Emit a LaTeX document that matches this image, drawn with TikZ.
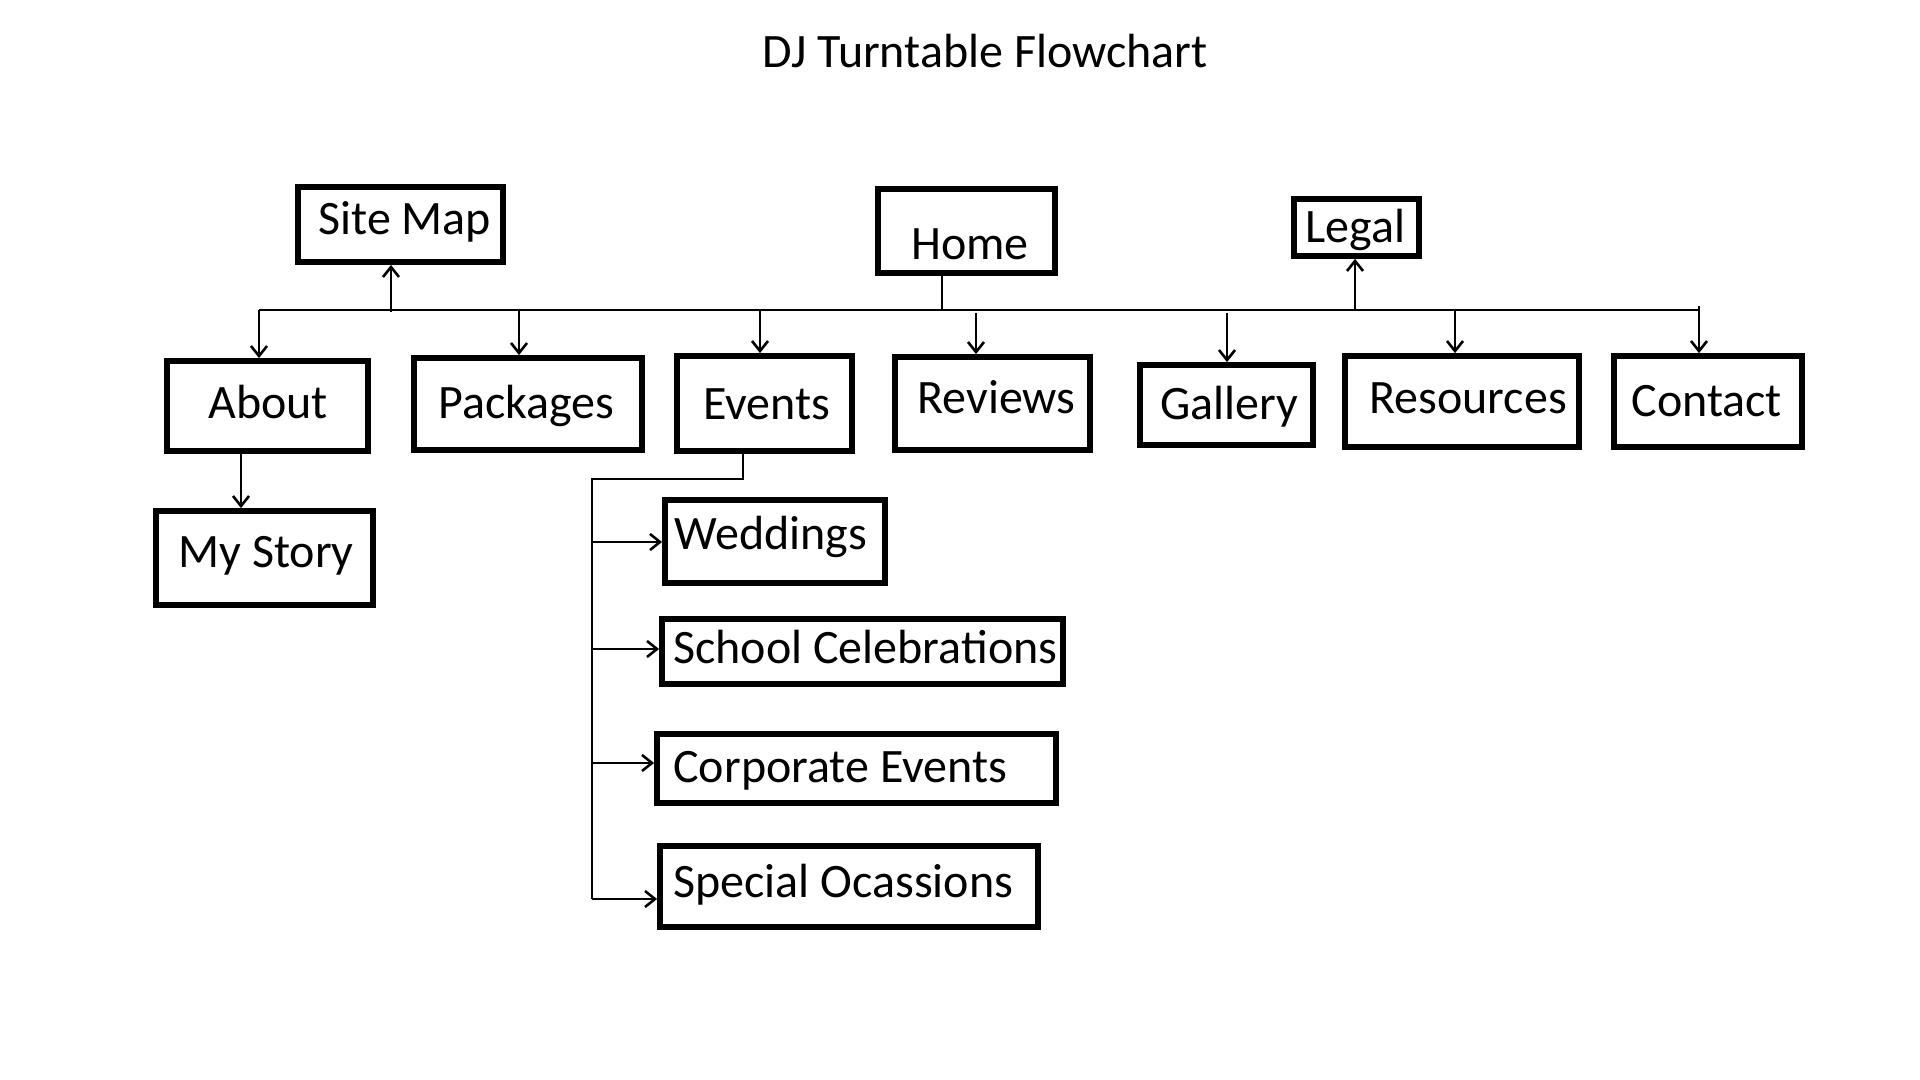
\documentclass[tikz,border=0pt]{standalone}
\usepackage{fontspec}
\setmainfont{Carlito}
\usetikzlibrary{arrows.meta}
\tikzset{
  box/.style={draw=black, line width=2.9pt, rectangle, inner sep=0pt, fill=white},
  txt/.style={anchor=base west, inner sep=0pt, font=\fontsize{24}{29}\selectfont},
  conn/.style={draw=black, line width=1.4pt},
  arr/.style={conn, -{Straight Barb[length=5pt,width=8pt,line width=1.3pt]}}
}
\newcommand{\mybox}[5]{%
  \node[box, minimum width={(#4-#2-6)*0.5pt}, minimum height={(#5-#3-6)*0.5pt}]
    (#1) at ({(#2+#4)/2},{(#3+#5)/2}) {};}
\begin{document}
\begin{tikzpicture}[x=0.5pt,y=-0.5pt]
\useasboundingbox[fill=white] (0,0) rectangle (1920,1080);

% title
\node[txt] (title) at (762,68) {DJ Turntable Flowchart};

% top row
\mybox{home}{875}{186}{1058}{276}
\node[txt] (homet) at (911,260) {Home};
\mybox{sitemap}{295}{184}{506}{265}
\node[txt] (sitemapt) at (318,235) {Site Map};
\mybox{legal}{1291}{196}{1422}{259}
\node[txt] (legalt) at (1305,243) {Legal};

% second row
\mybox{about}{164}{358}{371}{454}
\node[txt] (aboutt) at (208,418) {About};
\mybox{packages}{411}{355}{645}{453}
\node[txt] (packagest) at (438,418) {Packages};
\mybox{events}{674}{353}{855}{454}
\node[txt] (eventst) at (703,419) {Events};
\mybox{reviews}{892}{354}{1093}{453}
\node[txt] (reviewst) at (917,413) {Reviews};
\mybox{gallery}{1137}{362}{1316}{448}
\node[txt] (galleryt) at (1160,419) {Gallery};
\mybox{resources}{1342}{353}{1582}{450}
\node[txt] (resourcest) at (1369,413) {Resources};
\mybox{contact}{1611}{353}{1805}{450}
\node[txt] (contactt) at (1631,416) {Contact};

% my story
\mybox{mystory}{153}{508}{376}{608}
\node[txt] (mystoryt) at (178,567) {My Story};

% events children
\mybox{weddings}{662}{497}{888}{586}
\node[txt] (weddingst) at (674,549) {Weddings};
\mybox{school}{659}{616}{1066}{687}
\node[txt] (schoolt) at (673,663) {School Celebrations};
\mybox{corporate}{654}{731}{1059}{806}
\node[txt] (corporatet) at (673,782) {Corporate Events};
\mybox{special}{657}{843}{1041}{930}
\node[txt] (specialt) at (673,897) {Special Ocassions};

% bus coordinates
\coordinate (busL) at (259,310);
\coordinate (busR) at (1699,310);
\coordinate (bHome) at (942,310);
\coordinate (bSite) at (391,312);
\coordinate (bLegal) at (1355,310);
\coordinate (bAbout) at (259,310);
\coordinate (bPack) at (519,310);
\coordinate (bEvents) at (760,310);
\coordinate (bReviews) at (976,313);
\coordinate (bGallery) at (1227,313);
\coordinate (bRes) at (1455,310);
\coordinate (bContact) at (1699,306);

\draw[conn] (busL) -- (busR);
\draw[conn] (bHome |- home.south) -- (bHome);
\draw[arr] (bSite) -- (bSite |- sitemap.south);
\draw[arr] (bLegal) -- (bLegal |- legal.south);
\draw[arr] (bAbout) -- (bAbout |- about.north);
\draw[arr] (bPack) -- (bPack |- packages.north);
\draw[arr] (bEvents) -- (bEvents |- events.north);
\draw[arr] (bReviews) -- (bReviews |- reviews.north);
\draw[arr] (bGallery) -- (bGallery |- gallery.north);
\draw[arr] (bRes) -- (bRes |- resources.north);
\draw[arr] (bContact) -- (bContact |- contact.north);

% about -> my story
\coordinate (aStory) at (241,454);
\draw[arr] (aStory |- about.south) -- (aStory |- mystory.north);

% events trunk
\coordinate (eDrop) at (743,479);
\coordinate (trunkTop) at (592,479);
\coordinate (trunkBot) at (592,899);
\draw[conn] (eDrop |- events.south) -- (eDrop) -- (trunkTop) -- (trunkBot);
\coordinate (tW) at (592,542);
\coordinate (tS) at (592,649);
\coordinate (tC) at (592,763);
\draw[arr] (tW) -- (tW -| weddings.west);
\draw[arr] (tS) -- (tS -| school.west);
\draw[arr] (tC) -- (tC -| corporate.west);
\draw[arr] (trunkBot) -- (trunkBot -| special.west);
\end{tikzpicture}
\end{document}
